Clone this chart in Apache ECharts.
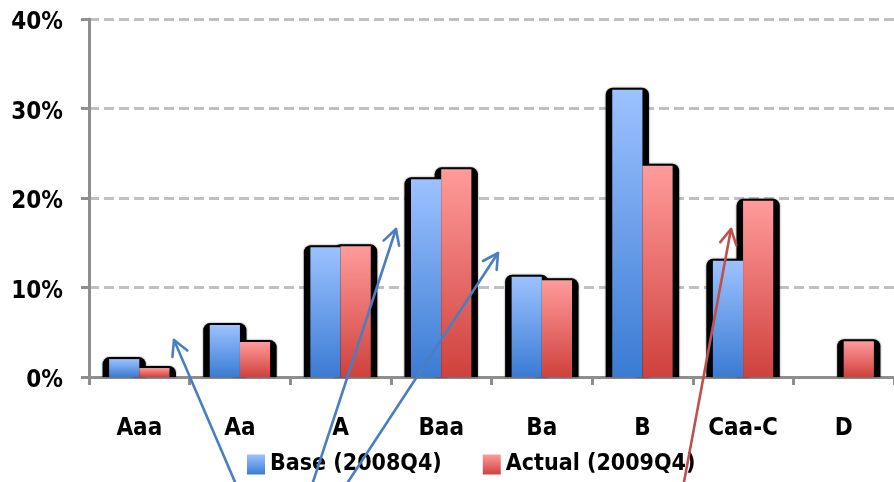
<!DOCTYPE html>
<html>
<head>
<meta charset="utf-8">
<style>
  html, body { margin: 0; padding: 0; background: #ffffff; }
  #chart { width: 894px; height: 482px; }
</style>
<script src="https://cdn.jsdelivr.net/npm/echarts@6/dist/echarts.min.js"></script>
</head>
<body>
<div id="chart"></div>
<script>
// Rating buckets and the share of each bucket, in percent
const ratings = ['Aaa', 'Aa', 'A', 'Baa', 'Ba', 'B', 'Caa-C', 'D'];
const baseShare = [2.0, 5.8, 14.5, 22.1, 11.2, 32.1, 13.0, 0];
const actualShare = [1.0, 3.9, 14.6, 23.2, 10.8, 23.6, 19.7, 4.0];
const seriesNames = ['Base (2008Q4)', 'Actual (2009Q4)'];
const yTicks = [0, 10, 20, 30, 40];

const FONT = '"DejaVu Sans Condensed", "DejaVu Sans", sans-serif';
const CAT_GAP = 0.4; // share of each category band left empty

function grad(top, bottom) {
  return new echarts.graphic.LinearGradient(0, 0, 0, 1, [
    { offset: 0, color: top },
    { offset: 1, color: bottom }
  ]);
}
const blueFill = grad('#9cc2ff', '#3a7bd3');
const redFill = grad('#ff9b9b', '#cf413c');

// Open-headed arrow drawn as a shaft plus a V-shaped head
function arrow(x1, y1, x2, y2, color) {
  const ang = Math.atan2(y2 - y1, x2 - x1);
  const len = 17, spread = 0.5;
  const p1 = [x2 - len * Math.cos(ang - spread), y2 - len * Math.sin(ang - spread)];
  const p2 = [x2 - len * Math.cos(ang + spread), y2 - len * Math.sin(ang + spread)];
  const style = { stroke: color, lineWidth: 2.6, fill: null, lineCap: 'round', lineJoin: 'round' };
  return [
    { type: 'line', z: 100, shape: { x1: x1, y1: y1, x2: x2, y2: y2 }, style: style },
    { type: 'polyline', z: 100, shape: { points: [p1, [x2, y2], p2] }, style: style }
  ];
}

const chart = echarts.init(document.getElementById('chart'), null, { renderer: 'canvas' });

// Dark backing plate behind each bar, drawn underneath both bars of a group
function renderBacking(params, api) {
  const idx = api.value(0);
  const vals = [api.value(1), api.value(2)];
  const band = api.size([1, 0])[0];
  const w = band * (1 - CAT_GAP) / 2;
  const base = api.coord([idx, 0]);
  const starts = [base[0] - w, base[0]];
  const children = [];
  vals.forEach(function (v, k) {
    if (!(v > 0)) return;
    const top = api.coord([idx, v])[1];
    children.push({
      type: 'rect',
      shape: { x: starts[k] - 6.5, y: top - 2, width: w + 13, height: base[1] - top + 2, r: [7, 7, 0, 0] },
      style: { fill: '#000', shadowColor: 'rgba(0,0,0,0.6)', shadowBlur: 2 }
    });
  });
  return { type: 'group', children: children };
}

const backingData = ratings.map(function (r, i) { return [i, baseShare[i], actualShare[i]]; });

const graphics = []
  .concat(arrow(235, 482, 174, 340, '#4a7ebf'))
  .concat(arrow(313, 482, 396, 229, '#4a7ebf'))
  .concat(arrow(348, 482, 498, 253, '#4a7ebf'))
  .concat(arrow(684, 482, 731, 229, '#c0504d'));

const labelFont = { fontFamily: FONT, fontWeight: 'bold', fontSize: 24, color: '#000' };

chart.setOption({
  animation: false,
  backgroundColor: '#ffffff',
  grid: { left: 89, right: -8, top: 19, bottom: 105, containLabel: false },
  legend: {
    data: seriesNames,
    left: 242,
    top: 448,
    itemWidth: 18,
    itemHeight: 20,
    itemGap: 41,
    icon: 'rect',
    textStyle: { fontFamily: FONT, fontWeight: 'bold', fontSize: 23, color: '#000' }
  },
  xAxis: {
    type: 'category',
    data: ratings,
    axisLine: { lineStyle: { color: '#8e8e8e', width: 3 } },
    axisTick: { show: true, length: 8, lineStyle: { color: '#8e8e8e', width: 3 } },
    axisLabel: Object.assign({ margin: 40 }, labelFont),
    splitLine: { show: false }
  },
  yAxis: {
    type: 'value',
    min: yTicks[0],
    max: yTicks[yTicks.length - 1],
    interval: 10,
    axisLine: { show: true, lineStyle: { color: '#8e8e8e', width: 3 } },
    axisTick: { show: true, length: 8, lineStyle: { color: '#8e8e8e', width: 3 } },
    axisLabel: {
      margin: 26,
      formatter: '{v|{value}%}',
      rich: { v: Object.assign({ padding: [8, 0, 0, 0] }, labelFont) }
    },
    splitLine: { show: true, lineStyle: { color: '#c0c0c0', width: 3, type: [10, 5] } }
  },
  series: [
    {
      type: 'custom',
      name: 'backing',
      z: 1,
      silent: true,
      renderItem: renderBacking,
      encode: { x: 0, y: [1, 2] },
      data: backingData
    },
    {
      type: 'bar',
      name: seriesNames[0],
      z: 2,
      data: baseShare,
      barGap: '0%',
      barCategoryGap: (CAT_GAP * 100) + '%',
      itemStyle: { color: blueFill }
    },
    {
      type: 'bar',
      name: seriesNames[1],
      z: 2,
      data: actualShare,
      barGap: '0%',
      barCategoryGap: (CAT_GAP * 100) + '%',
      itemStyle: { color: redFill }
    }
  ],
  graphic: graphics
});
</script>
</body>
</html>
